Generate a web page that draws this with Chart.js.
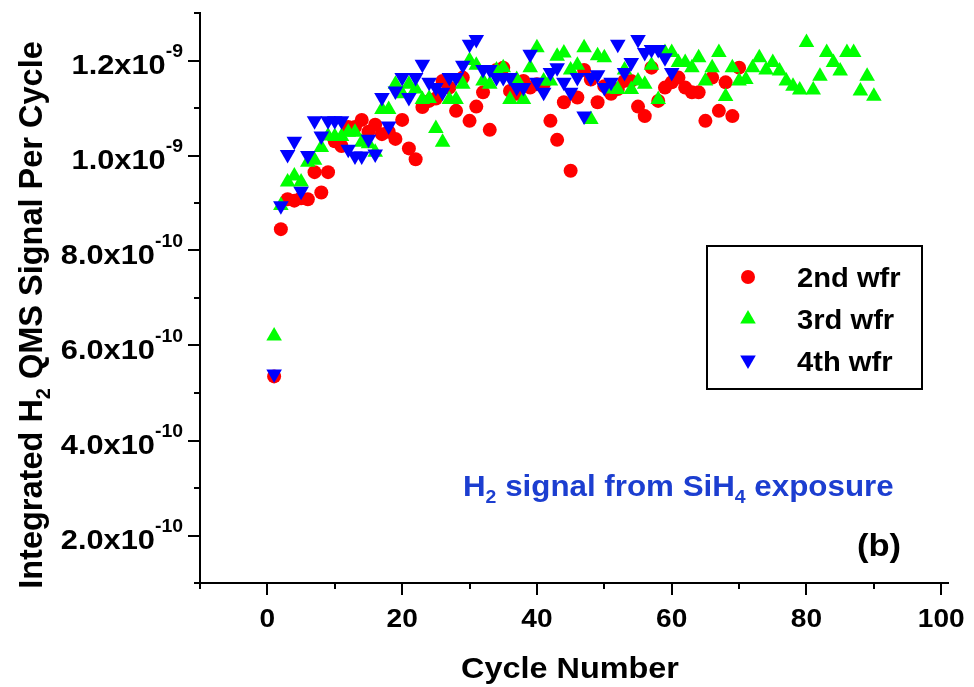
<!DOCTYPE html>
<html>
<head>
<meta charset="utf-8">
<script src="https://cdn.jsdelivr.net/npm/chart.js@4.4.0/dist/chart.umd.min.js"></script>
<style>
  body { margin: 0; background: #fff; }
</style>
</head>
<body>
<canvas id="chart" width="974" height="687"></canvas>
<script>
// values are in units of 1e-10 (integrated H2 signal per cycle)
const wfr2 = [5.35, 8.45, 9.08, 9.05, 9.1, 9.08, 9.65, 9.22, 9.65, 10.3,
  10.2, 10.6, 10.6, 10.75, 10.5, 10.65, 10.45, 10.5, 10.35, 10.75,
  10.15, 9.92, 11.02, 11.15, 11.2, 11.57, 11.43, 10.94, 11.64, 10.73,
  11.03, 11.33, 10.54, 11.8, 11.85, 11.36, 11.3, 11.57, 11.43, 11.5,
  11.5, 10.73, 10.33, 11.12, 9.68, 11.22, 11.8, 11.6, 11.12, 11.46,
  11.3, 11.4, 11.57, 11.57, 11.03, 10.83, 11.85, 11.15, 11.43, 11.54,
  11.64, 11.43, 11.33, 11.33, 10.73, 11.64, 10.94, 11.54, 10.83, 11.85];
const wfr3 = [6.2, 8.95, 9.44, 9.57, 9.44, 9.86, 9.9, 10.17, 10.41, 10.4,
  10.4, 10.49, 10.49, 10.28, 10.25, 10.07, 10.97, 10.97, 11.5, 11.3,
  11.5, 11.4, 11.18, 11.2, 10.57, 10.28, 11.18, 11.18, 11.5, 12.0,
  11.9, 11.57, 11.5, 11.8, 11.85, 11.18, 11.6, 11.18, 11.85, 12.27,
  11.57, 11.57, 12.09, 12.16, 11.8, 11.9, 12.27, 10.76, 12.1, 12.06,
  11.4, 11.39, 11.8, 11.39, 11.57, 11.5, 11.9, 11.18, 12.17, 12.17,
  11.96, 11.96, 11.85, 12.06, 11.57, 11.85, 12.17, 11.24, 11.85, 11.57,
  11.6, 11.85, 12.06, 11.8, 11.96, 11.78, 11.57, 11.46, 11.38, 12.38,
  11.38, 11.67, 12.17, 11.96, 11.78, 12.17, 12.17, 11.36, 11.67, 11.25];
const wfr4 = [5.4, 8.94, 10.02, 10.3, 9.25, 10.0, 10.73, 10.41, 10.73, 10.73,
  10.73, 10.13, 9.99, 9.99, 10.34, 10.03, 11.22, 10.62, 11.36, 11.64,
  11.22, 11.64, 11.92, 11.54, 11.43, 11.33, 11.64, 11.64, 11.9, 12.34,
  12.44, 11.81, 11.81, 11.64, 11.64, 11.64, 11.43, 11.43, 12.13, 11.54,
  11.33, 11.75, 11.85, 11.54, 11.33, 11.64, 10.83, 11.64, 11.7, 11.43,
  11.54, 12.34, 11.75, 11.96, 12.44, 12.17, 12.23, 12.23, 12.06, 11.75];
const seriesNames = ["2nd wfr", "3rd wfr", "4th wfr"];
const xTicks = [0, 20, 40, 60, 80, 100];
const yTicks = [2, 4, 6, 8, 10, 12];

function toPoints(arr) {
  return arr.map((v, i) => ({ x: i + 1, y: v }));
}

const FONT = '"Liberation Sans", Arial, sans-serif';
const SX = 1.08;

// draws text made of pieces [text, size, dy]
function richText(ctx, parts, x, y, align, color, sx) {
  let w = 0;
  parts.forEach(p => {
    ctx.font = 'bold ' + p[1] + 'px ' + FONT;
    w += ctx.measureText(p[0]).width;
  });
  let cx = align === 'right' ? -w : align === 'center' ? -w / 2 : 0;
  ctx.save();
  ctx.translate(x, y);
  ctx.scale(sx, 1);
  ctx.fillStyle = color;
  ctx.textAlign = 'left';
  ctx.textBaseline = 'alphabetic';
  parts.forEach(p => {
    ctx.font = 'bold ' + p[1] + 'px ' + FONT;
    ctx.fillText(p[0], cx, p[2] || 0);
    cx += ctx.measureText(p[0]).width;
  });
  ctx.restore();
}

function marker(ctx, style, x, y, color) {
  ctx.fillStyle = color;
  ctx.beginPath();
  if (style === 'circle') {
    ctx.arc(x, y, 7, 0, Math.PI * 2);
  } else {
    const r = 9, s = style === 'down' ? -1 : 1;
    ctx.moveTo(x, y - s * r);
    ctx.lineTo(x + r * 0.866, y + s * r / 2);
    ctx.lineTo(x - r * 0.866, y + s * r / 2);
    ctx.closePath();
  }
  ctx.fill();
}

const decor = {
  id: 'decor',
  afterDraw(chart) {
    const ctx = chart.ctx;
    const xs = chart.scales.x, ys = chart.scales.y;
    const a = chart.chartArea;
    ctx.save();
    ctx.strokeStyle = '#000';
    ctx.lineWidth = 2;
    // x ticks
    for (let v = -10; v <= 100; v += 10) {
      const px = Math.round(xs.getPixelForValue(v));
      const len = v % 20 === 0 ? 12 : 6;
      ctx.beginPath();
      ctx.moveTo(px, a.bottom);
      ctx.lineTo(px, a.bottom + len);
      ctx.stroke();
    }
    // y ticks
    for (let v = 1; v <= 13; v++) {
      const py = Math.round(ys.getPixelForValue(v));
      const len = v % 2 === 0 ? 12 : 6;
      ctx.beginPath();
      ctx.moveTo(a.left - len, py);
      ctx.lineTo(a.left, py);
      ctx.stroke();
    }
    ctx.restore();

    xTicks.forEach(v => {
      richText(ctx, [[String(v), 26]], xs.getPixelForValue(v), a.bottom + 44, 'center', '#000', SX);
    });
    yTicks.forEach(v => {
      const py = ys.getPixelForValue(v);
      const coef = v >= 10 ? (v / 10).toFixed(1) : v.toFixed(1);
      const exp = v >= 10 ? '-9' : '-10';
      richText(ctx, [[coef + 'x10', 28.5], [exp, 18, -17]], 183, py + 13, 'right', '#000', SX);
    });

    // axis titles
    richText(ctx, [['Cycle Number', 30]], 570, 678, 'center', '#000', SX);
    ctx.save();
    ctx.translate(42, 315);
    ctx.rotate(-Math.PI / 2);
    richText(ctx, [['Integrated H', 32.5], ['2', 20, 8], [' QMS Signal Per Cycle', 32.5]], 0, 0, 'center', '#000', 1);
    ctx.restore();

    // legend
    ctx.save();
    ctx.strokeStyle = '#000';
    ctx.lineWidth = 2;
    ctx.strokeRect(707, 246, 215, 143);
    ctx.restore();
    const styles = ['circle', 'up', 'down'];
    const colors = ['#ff0000', '#00ff00', '#0000ff'];
    const my = [277, 319, 360];
    const ty = [287, 329, 371];
    seriesNames.forEach((name, i) => {
      marker(ctx, styles[i], 748, my[i], colors[i]);
      richText(ctx, [[name, 27]], 797, ty[i], 'left', '#000', SX);
    });

    // annotations
    richText(ctx, [['H', 29], ['2', 18, 7], [' signal from SiH', 29], ['4', 18, 7], [' exposure', 29]],
      463, 496, 'left', '#1c3ed0', SX);
    richText(ctx, [['(b)', 32]], 857, 556, 'left', '#000', SX);
  }
};

const ctx = document.getElementById("chart").getContext("2d");
const data = {
  datasets: [{
    label: seriesNames[0],
    data: toPoints(wfr2),
    pointStyle: 'circle',
    pointRadius: 7,
    backgroundColor: '#ff0000',
    borderWidth: 0,
    order: 3
  }, {
    label: seriesNames[1],
    data: toPoints(wfr3),
    pointStyle: 'triangle',
    pointRadius: 9,
    backgroundColor: '#00ff00',
    borderWidth: 0,
    order: 2
  }, {
    label: seriesNames[2],
    data: toPoints(wfr4),
    pointStyle: 'triangle',
    rotation: 180,
    pointRadius: 9,
    backgroundColor: '#0000ff',
    borderWidth: 0,
    order: 1
  }]
};
const config = {
  type: 'scatter',
  data: data,
  options: {
    responsive: false,
    animation: false,
    devicePixelRatio: 1,
    layout: { padding: { left: 200, right: 26, top: 13, bottom: 104 } },
    plugins: {
      legend: { display: false },
      tooltip: { enabled: false }
    },
    scales: {
      x: {
        type: 'linear',
        min: -10,
        max: 101,
        ticks: { display: false, stepSize: 10 },
        grid: { display: false, drawTicks: false },
        border: { display: true, color: '#000', width: 2 }
      },
      y: {
        type: 'linear',
        min: 1,
        max: 13,
        ticks: { display: false, stepSize: 1 },
        grid: { display: false, drawTicks: false },
        border: { display: true, color: '#000', width: 2 }
      }
    }
  },
  plugins: [decor]
};

const chart = new Chart(ctx, config);
</script>
</body>
</html>
